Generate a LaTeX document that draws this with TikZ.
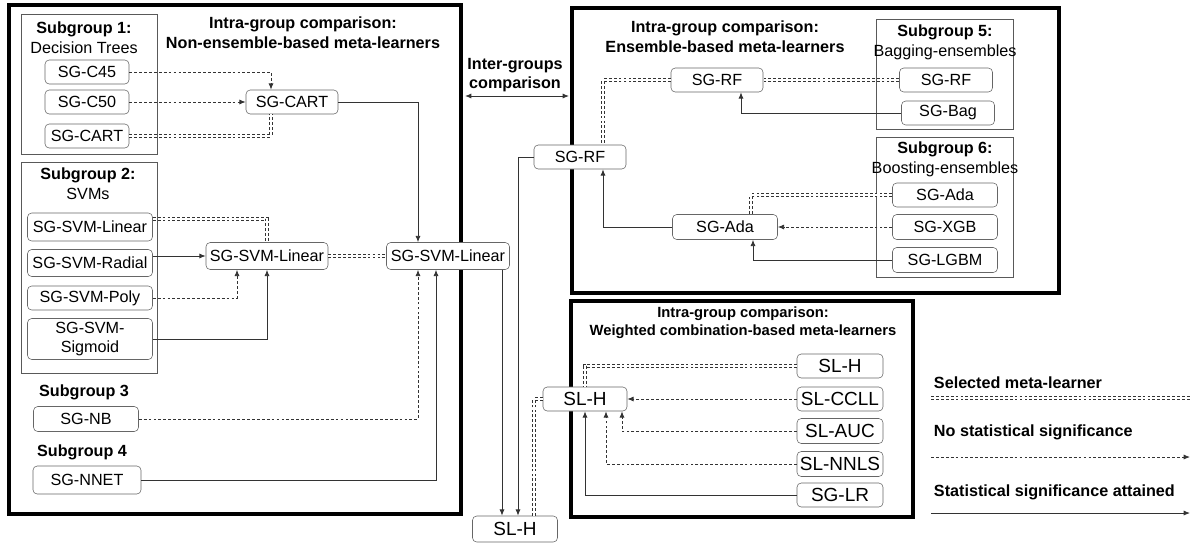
\documentclass[tikz,border=0pt]{standalone}
\usepackage{fontspec}
\setmainfont{Liberation Sans}
\usetikzlibrary{arrows.meta,calc}

\begin{document}
\begin{tikzpicture}[x=0.025cm,y=-0.025cm,>={Latex[length=4.5pt,width=3.6pt]},txt/.style={font=\fontsize{11.5}{14}\selectfont,align=center},head/.style={font=\fontsize{11.5}{14}\selectfont\bfseries,align=center},smallhead/.style={font=\fontsize{10.5}{13}\selectfont\bfseries,align=center},ml/.style={txt,draw=black!60,fill=white,rounded corners=3pt,inner sep=1pt,minimum height=0.6cm},sl/.style={ml,font=\fontsize{13.5}{15}\selectfont},group/.style={line width=2.2pt},subgroup/.style={draw=black!65,line width=0.5pt},sig/.style={->,draw=black!80,line width=0.6pt},nosig/.style={->,draw=black!80,line width=0.6pt,dash pattern=on 2pt off 1.5pt},selected/.style={draw=black!80,line width=0.45pt,double,double distance=1.3pt,dash pattern=on 2pt off 1.5pt}]
\useasboundingbox (0,0) rectangle (1197,542);
% group boxes
\draw[group] (9,5) rectangle (461,514); \draw[group] (572,8) rectangle (1059,293); \draw[group] (571,301) rectangle (913,517);
\draw[subgroup] (21,14) rectangle (157,154); \draw[subgroup] (21,162) rectangle (157,373); \draw[subgroup] (876,19) rectangle (1013,129); \draw[subgroup] (876,137) rectangle (1013,277);
% headings
\node[head] (hdA) at (303,33) {Intra-group comparison:\\Non-ensemble-based meta-learners};
\node[head] (hdB) at (725,37) {Intra-group comparison:\\Ensemble-based meta-learners};
\node[smallhead] (hdC) at (743,323) {Intra-group comparison:\\Weighted combination-based meta-learners};
\node[txt] (sg1) at (84,38) {\textbf{Subgroup 1:}\\Decision Trees}; \node[txt] (sg2) at (88,184) {\textbf{Subgroup 2:}\\SVMs};
\node[head] (sg3) at (84,392) {Subgroup 3}; \node[head] (sg4) at (82,452) {Subgroup 4};
\node[txt] (sg5) at (945,42) {\textbf{Subgroup 5:}\\Bagging-ensembles}; \node[txt] (sg6) at (945,159) {\textbf{Subgroup 6:}\\Boosting-ensembles};
\node[head] (inter) at (515,75) {Inter-groups\\comparison};
% non-ensemble learners
\node[ml,minimum width=2.1cm] (c45) at (87,72) {SG-C45}; \node[ml,minimum width=2.1cm] (c50) at (87,102) {SG-C50}; \node[ml,minimum width=2.1cm] (cartl) at (87,136) {SG-CART};
\node[ml,minimum width=2.3cm] (cartm) at (292,102) {SG-CART};
\node[ml,minimum width=3.125cm,minimum height=0.7cm] (svml) at (90,227) {SG-SVM-Linear}; \node[ml,minimum width=3.125cm,minimum height=0.675cm] (radial) at (90,263) {SG-SVM-Radial};
\node[ml,minimum width=3.125cm] (poly) at (90,298) {SG-SVM-Poly}; \node[ml,minimum width=3.125cm,minimum height=1.025cm] (sigmoid) at (90,339) {SG-SVM-\\Sigmoid};
\node[ml,minimum width=3.05cm,minimum height=0.675cm] (svmm) at (267,256) {SG-SVM-Linear}; \node[ml,minimum width=3.075cm,minimum height=0.675cm] (svmr) at (448,256) {SG-SVM-Linear};
\node[ml,minimum width=2.625cm,minimum height=0.625cm] (nb) at (86,419) {SG-NB}; \node[ml,minimum width=2.7cm,minimum height=0.7cm] (nnet) at (87,480) {SG-NNET};
% ensemble learners
\node[ml,minimum width=2.3cm] (rfl) at (580,157) {SG-RF}; \node[ml,minimum width=2.3cm] (rfm) at (717,80) {SG-RF};
\node[ml,minimum width=2.325cm] (rfs) at (946,80) {SG-RF}; \node[ml,minimum width=2.325cm] (bag) at (948,113) {SG-Bag};
\node[ml,minimum width=2.625cm] (adas) at (945,195) {SG-Ada}; \node[ml,minimum width=2.625cm,minimum height=0.625cm] (xgb) at (945,227) {SG-XGB}; \node[ml,minimum width=2.625cm,minimum height=0.625cm] (lgbm) at (945,260) {SG-LGBM};
\node[ml,minimum width=2.625cm,minimum height=0.625cm] (adam) at (725,227) {SG-Ada};
% weighted combination learners
\node[sl,minimum width=2.125cm,minimum height=0.65cm] (slhb) at (515,529) {SL-H}; \node[sl,minimum width=2.1cm] (slhm) at (585,399) {SL-H};
\node[sl,minimum width=2.15cm] (slhr) at (840,366) {SL-H}; \node[sl,minimum width=2.15cm] (ccll) at (840,399) {SL-CCLL}; \node[sl,minimum width=2.15cm,minimum height=0.625cm] (auc) at (840,431) {SL-AUC};
\node[sl,minimum width=2.15cm,minimum height=0.625cm] (nnls) at (840,464) {SL-NNLS}; \node[sl,minimum width=2.15cm] (lr) at (840,495) {SG-LR};
% connectors
\draw[nosig] (c45.east) -| ($(cartm.north)+(-21,0)$); \draw[nosig] (c50.east) -- (cartm.west); \draw[selected] (cartl.east) -| ($(cartm.south)+(-21,0)$);
\draw[sig] (cartm.east) -| ($(svmr.north)+(-30,0)$);
\draw[selected] ($(svml.east)+(0,-8)$) -| (svmm.north); \draw[sig] (svmm.west -| radial.east) -- (svmm.west); \draw[nosig] (poly.east) -| ($(svmm.south)+(-30,0)$); \draw[sig] (sigmoid.east) -| (svmm.south);
\draw[selected] (svmm.east) -- (svmr.west);
\draw[nosig] (nb.east) -| ($(svmr.south)+(-30,0)$); \draw[sig] (nnet.east) -| ($(svmr.south)+(-12,0)$);
\draw[sig] ($(svmr.south)+(54,0)$) -- ($(slhb.north)+(-13,0)$); \draw[sig] (rfl.west) -| ($(slhb.north)+(3,0)$); \draw[selected] ($(slhb.north)+(19,0)$) |- (slhm.west);
\draw[selected] (rfs.west) -- (rfm.east); \draw[selected] (rfm.west) -| ($(rfl.north)+(23,0)$); \draw[sig] (bag.west) -| ($(rfm.south)+(24,0)$);
\draw[selected] (adas.west) -| ($(adam.north)+(26,0)$); \draw[nosig] (xgb.west) -- (adam.east); \draw[sig] (lgbm.west) -| ($(adam.south)+(28,0)$); \draw[sig] (adam.west) -| ($(rfl.south)+(23,0)$);
\draw[selected] (slhr.west) -| (slhm.north); \draw[nosig] (ccll.west) -- (slhm.east); \draw[nosig] (auc.west) -| ($(slhm.south)+(37,0)$); \draw[nosig] (nnls.west) -| ($(slhm.south)+(21,0)$); \draw[sig] (lr.west) -| (slhm.south);
\coordinate (interL) at (465,96); \coordinate (interR) at (569,96); \draw[sig,<->] (interL) -- (interR);
% legend
\node[head,anchor=west] (legA) at (929,383) {Selected meta-learner}; \node[head,anchor=west] (legB) at (929,432) {No statistical significance}; \node[head,anchor=west] (legC) at (929,492) {Statistical significance attained};
\coordinate (selA) at (931,398); \coordinate (selB) at (1190,398); \draw[selected] (selA) -- (selB);
\coordinate (noA) at (931,457); \coordinate (noB) at (1190,457); \draw[nosig] (noA) -- (noB);
\coordinate (sigA) at (931,513); \coordinate (sigB) at (1190,513); \draw[sig] (sigA) -- (sigB);
\end{tikzpicture}
\end{document}
